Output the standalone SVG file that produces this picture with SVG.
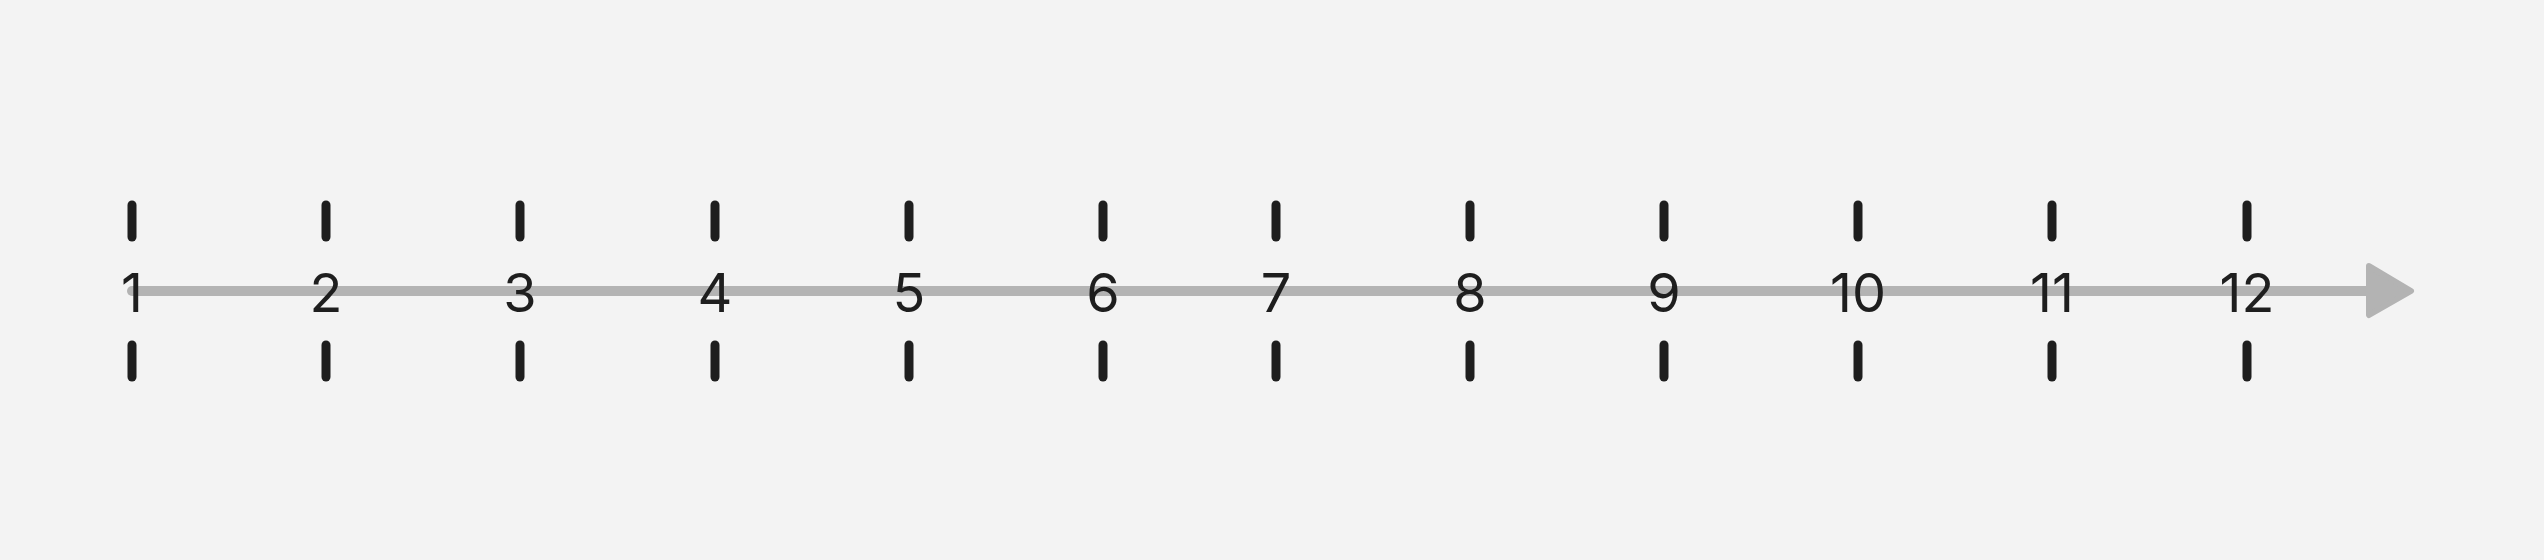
<svg xmlns="http://www.w3.org/2000/svg" width="2544" height="560" viewBox="0 0 2544 560">
<style>
.tick{stroke:#1e1e1e;stroke-width:9;stroke-linecap:round;fill:none}
.lbl{font-family:Inter,"Liberation Sans",sans-serif;font-size:54px;fill:#1e1e1e;text-anchor:middle}
.axis{stroke:#b3b3b3;stroke-width:10;stroke-linecap:round;fill:none}
</style>
<rect width="2544" height="560" fill="#f3f3f3"/>
<g id="connectors">
<line class="axis" x1="132" y1="291" x2="2375" y2="291"/>
<polygon points="2369,266 2411,291 2369,315" fill="#b3b3b3" stroke="#b3b3b3" stroke-width="6" stroke-linejoin="round"/>
</g>
<g id="n1"><line class="tick" x1="132" y1="205" x2="132" y2="237"/><line class="tick" x1="132" y1="345" x2="132" y2="377"/><text class="lbl" x="132" y="312">1</text></g>
<g id="n2"><line class="tick" x1="326" y1="205" x2="326" y2="237"/><line class="tick" x1="326" y1="345" x2="326" y2="377"/><text class="lbl" x="326" y="312">2</text></g>
<g id="n3"><line class="tick" x1="520" y1="205" x2="520" y2="237"/><line class="tick" x1="520" y1="345" x2="520" y2="377"/><text class="lbl" x="520" y="312">3</text></g>
<g id="n4"><line class="tick" x1="715" y1="205" x2="715" y2="237"/><line class="tick" x1="715" y1="345" x2="715" y2="377"/><text class="lbl" x="715" y="312">4</text></g>
<g id="n5"><line class="tick" x1="909" y1="205" x2="909" y2="237"/><line class="tick" x1="909" y1="345" x2="909" y2="377"/><text class="lbl" x="909" y="312">5</text></g>
<g id="n6"><line class="tick" x1="1103" y1="205" x2="1103" y2="237"/><line class="tick" x1="1103" y1="345" x2="1103" y2="377"/><text class="lbl" x="1103" y="312">6</text></g>
<g id="n7"><line class="tick" x1="1276" y1="205" x2="1276" y2="237"/><line class="tick" x1="1276" y1="345" x2="1276" y2="377"/><text class="lbl" x="1276" y="312">7</text></g>
<g id="n8"><line class="tick" x1="1470" y1="205" x2="1470" y2="237"/><line class="tick" x1="1470" y1="345" x2="1470" y2="377"/><text class="lbl" x="1470" y="312">8</text></g>
<g id="n9"><line class="tick" x1="1664" y1="205" x2="1664" y2="237"/><line class="tick" x1="1664" y1="345" x2="1664" y2="377"/><text class="lbl" x="1664" y="312">9</text></g>
<g id="n10"><line class="tick" x1="1858" y1="205" x2="1858" y2="237"/><line class="tick" x1="1858" y1="345" x2="1858" y2="377"/><text class="lbl" x="1858" y="312">10</text></g>
<g id="n11"><line class="tick" x1="2052" y1="205" x2="2052" y2="237"/><line class="tick" x1="2052" y1="345" x2="2052" y2="377"/><text class="lbl" x="2052" y="312">11</text></g>
<g id="n12"><line class="tick" x1="2247" y1="205" x2="2247" y2="237"/><line class="tick" x1="2247" y1="345" x2="2247" y2="377"/><text class="lbl" x="2247" y="312">12</text></g>
</svg>
